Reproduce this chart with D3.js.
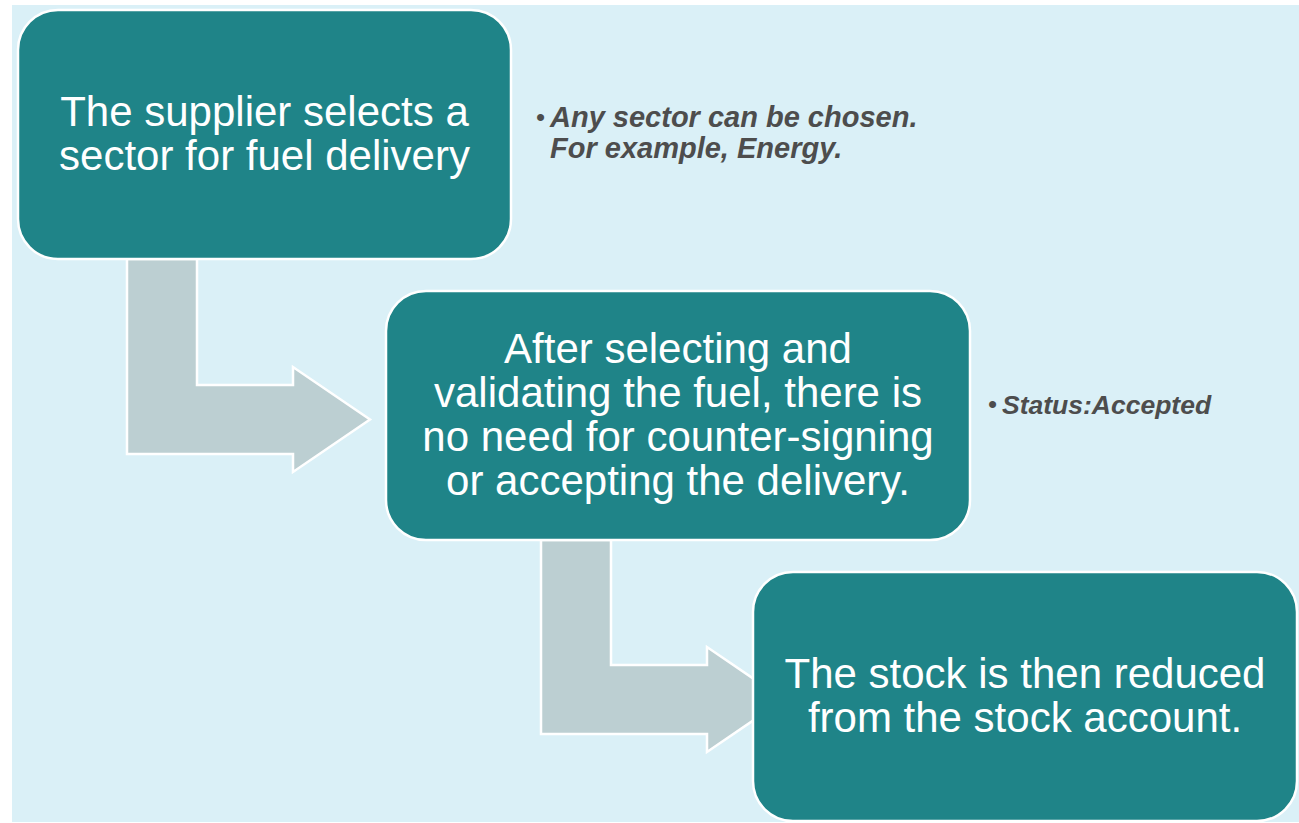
<!DOCTYPE html>
<html>
<head>
<meta charset="utf-8">
<script src="https://cdn.jsdelivr.net/npm/d3@7"></script>
<style>
  body { margin: 0; background: #ffffff; }
  svg { display: block; }
</style>
</head>
<body>
<div id="chart"></div>
<script>
// steps of the process, top-left to bottom-right
const stepLines = [
  ["The supplier selects a", "sector for fuel delivery"],
  ["After selecting and", "validating the fuel, there is", "no need for counter-signing", "or accepting the delivery."],
  ["The stock is then reduced", "from the stock account."]
]
// side notes, one per step (empty = none)
const noteLines = [
  ["Any sector can be chosen.", "For example, Energy."],
  ["Status:Accepted"],
  []
]
const stepIndex = [0, 1, 2]

var width = 1299,
    height = 823;

var boxFill = "#1f8488",
    arrowFill = "#bccfd2",
    panelFill = "#daf0f7",
    noteColor = "#4d4d4d";

// layout scales, step index -> pixels
var boxLeft = d3.scaleLinear().domain([0, 1, 2]).range([18, 386, 753]);
var boxRight = d3.scaleLinear().domain([0, 1, 2]).range([511, 970, 1297]);
var boxTop = d3.scaleLinear().domain([0, 2]).range([10, 572]);
var boxH = 249;

// bent arrow between step i and i+1
var barLeft = d3.scaleLinear().domain([0, 1]).range([127, 541]);
var cornerY = d3.scaleLinear().domain([0, 1]).range([385, 665]);
var headBase = d3.scaleLinear().domain([0, 1]).range([293, 707]);
var barW = 70, barT = 69, headHalf = 52.5, headLen = 77;

var svg = d3.select("#chart").append("svg")
    .attr("width", width)
    .attr("height", height);

svg.append("rect")
    .attr("x", 12).attr("y", 5)
    .attr("width", width - 12).attr("height", 817)
    .attr("fill", panelFill);

function arrowPath(i) {
  var x0 = barLeft(i), x1 = x0 + barW;
  var top = boxTop(i) + boxH;
  var cy = cornerY(i), by = cy + barT, mid = (cy + by) / 2;
  var hb = headBase(i);
  var p = d3.path();
  p.moveTo(x0, top);
  p.lineTo(x1, top);
  p.lineTo(x1, cy);
  p.lineTo(hb, cy);
  p.lineTo(hb, mid - headHalf);
  p.lineTo(hb + headLen, mid);
  p.lineTo(hb, mid + headHalf);
  p.lineTo(hb, by);
  p.lineTo(x0, by);
  p.closePath();
  return p.toString();
}

svg.append("g")
  .selectAll("path")
  .data(stepIndex.slice(0, -1))
  .join("path")
    .attr("d", arrowPath)
    .attr("fill", arrowFill)
    .attr("stroke", "#ffffff")
    .attr("stroke-width", 2.5);

var steps = svg.append("g")
  .selectAll("g")
  .data(stepIndex)
  .join("g");

steps.append("rect")
    .attr("x", function(i){ return boxLeft(i); })
    .attr("y", function(i){ return boxTop(i); })
    .attr("width", function(i){ return boxRight(i) - boxLeft(i); })
    .attr("height", boxH)
    .attr("rx", 40)
    .attr("fill", boxFill)
    .attr("stroke", "#ffffff")
    .attr("stroke-width", 2.5);

var lineH = 44;
steps.append("text")
    .attr("text-anchor", "middle")
    .attr("fill", "#ffffff")
    .style("font-family", "'Liberation Sans', Arial, sans-serif")
    .style("font-size", "42px")
    .each(function(i) {
      var lines = stepLines[i];
      var cx = (boxLeft(i) + boxRight(i)) / 2;
      var cy = boxTop(i) + boxH / 2;
      var y0 = cy - (lines.length - 1) * lineH / 2 + 13;
      d3.select(this).selectAll("tspan")
        .data(lines)
        .join("tspan")
          .attr("x", cx)
          .attr("y", function(d, k){ return y0 + k * lineH; })
          .text(function(d){ return d; });
    });

// notes to the right of each box
var noteX = d3.scaleLinear().domain([0, 1]).range([550, 1002]);
var noteY = d3.scaleLinear().domain([0, 1]).range([127, 414]);
var noteSize = d3.scaleLinear().domain([0, 1]).range([29, 26.5]);
var notes = svg.append("g")
  .selectAll("g")
  .data(stepIndex.filter(function(i){ return noteLines[i].length > 0; }))
  .join("g");

notes.append("text")
    .attr("x", function(i){ return noteX(i) - 5; })
    .attr("y", function(i){ return noteY(i) - 1; })
    .attr("text-anchor", "end")
    .attr("fill", noteColor)
    .style("font-family", "'Liberation Sans', Arial, sans-serif")
    .style("font-size", "26px")
    .text("\u2022");

notes.append("text")
    .attr("fill", noteColor)
    .style("font-family", "'Liberation Sans', Arial, sans-serif")
    .style("font-size", function(i){ return noteSize(i) + "px"; })
    .style("font-weight", "bold")
    .style("font-style", "italic")
    .each(function(i) {
      d3.select(this).selectAll("tspan")
        .data(noteLines[i])
        .join("tspan")
          .attr("x", noteX(i))
          .attr("y", function(d, k){ return noteY(i) + k * 31; })
          .text(function(d){ return d; });
    });
</script>
</body>
</html>
